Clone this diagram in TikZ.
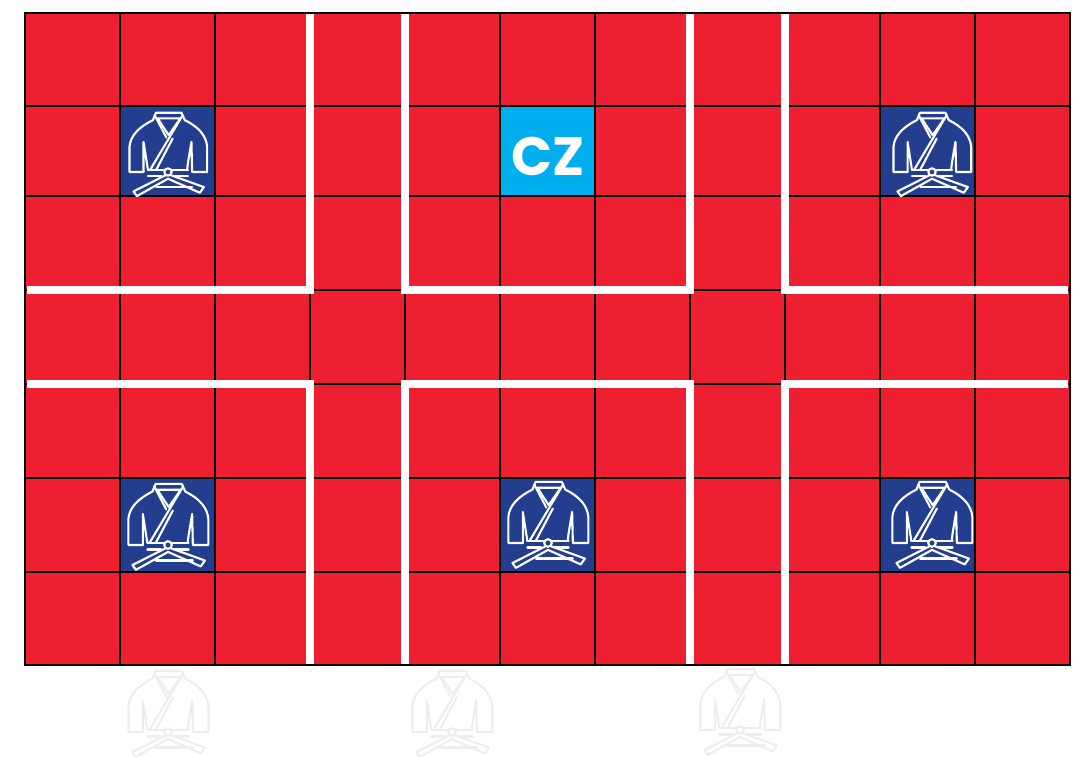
\documentclass[tikz,border=0pt]{standalone}
\usepackage{fontspec}
\newfontfamily\czfont{Poppins}
\definecolor{matred}{HTML}{EE1F30}
\definecolor{gibue}{HTML}{233E8F}
\definecolor{czblue}{HTML}{00AEEF}
\tikzset{
    cell/.style={draw=black, line width=1.3pt},
    wall/.style={draw=white, line width=7.5pt},
    pics/kimono/.style={
        code={
            \begin{scope}[x=0.335pt, y=-0.335pt, line width=2.1pt, draw=#1, line join=round, line cap=round]
                % jacket
                \draw (-73,0) -- (-115,0) -- (-115,-75)
                    .. controls (-112,-110) and (-85,-135) .. (-45,-155)
                    -- (-36,-177) -- (40,-177) -- (50,-155)
                    .. controls (90,-135) and (114,-110) .. (117,-75)
                    -- (117,0) -- (72,0) -- (70,-90) -- (60,-30) -- (57,-7);
                \draw (-73,0) -- (-73,-90) -- (-60,-7);
                % collar
                \draw (-31,-160) -- (37,-160) -- (2,-110) -- cycle;
                \draw (-40,-170) -- (-5,-103);
                \draw (44,-170) -- (-53,-7);
                \draw (14,-100) -- (-35,-7);
                % belt
                \draw (-60,-7) -- (-12,-7);
                \draw (12,-7) -- (60,-7);
                \draw (-60,13) -- (-20,13);
                \draw (20,13) -- (60,13);
                \draw (-35,45) -- (72,45);
                % belt ends
                \draw (-8,10) -- (-103,58) -- (-93,72) -- (0,20) -- (95,62) -- (107,45) -- (10,10);
                \draw (0,0) circle (11);
            \end{scope}
        }
    }
}
\begin{document}
\begin{tikzpicture}[x=1pt, y=-1pt]
    \useasboundingbox (0,0) rectangle (1077,756);
    % mat:
    \fill[matred] (25,13) rectangle (1070,665);
    \fill[gibue] (120,106) rectangle (215,196);
    \fill[gibue] (880,106) rectangle (975,196);
    \fill[gibue] (120,478) rectangle (215,572);
    \fill[gibue] (500,478) rectangle (595,572);
    \fill[gibue] (880,478) rectangle (975,572);
    \fill[czblue] (500,106) rectangle (595,196);
    % grid:
    \foreach \x in {120,215,...,975}
        \draw[cell] (\x,13) -- (\x,665);
    \foreach \y in {106,196,290,384,478,572}
        \draw[cell] (25,\y) -- (1070,\y);
    % walls:
    \foreach \x in {310,405,690,785} {
        \draw[wall] (\x,14) -- (\x,294);
        \draw[wall] (\x,380) -- (\x,664);
    }
    \foreach \y in {290,384} {
        \draw[wall] (27,\y) -- (314,\y);
        \draw[wall] (401,\y) -- (694,\y);
        \draw[wall] (781,\y) -- (1068,\y);
    }
    \draw[black, line width=2.5pt] (25,13) rectangle (1070,665);
    % label:
    \node[text=white, inner sep=0pt, font=\czfont\bfseries\fontsize{54}{54}\selectfont] (cz) at (548,156) {CZ};
    % jackets:
    \pic at (168,172) {kimono=white};
    \pic at (932,172) {kimono=white};
    \pic[scale=1.03] at (168,545) {kimono=white};
    \pic[scale=1.03] at (548,543) {kimono=white};
    \pic[scale=1.03] at (932,543) {kimono=white};
    \pic[scale=1.03] at (168,732) {kimono=black!7};
    \pic[scale=1.03] at (452,732) {kimono=black!7};
    \pic[scale=1.03] at (740,730) {kimono=black!7};
\end{tikzpicture}
\end{document}
